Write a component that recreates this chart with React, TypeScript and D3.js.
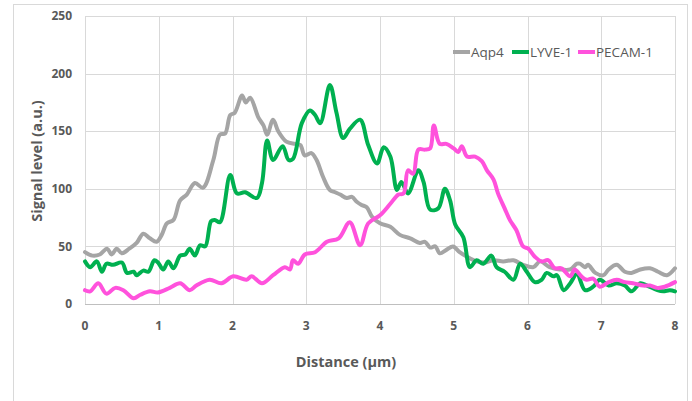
import React, { useEffect, useRef } from "react";
import * as d3 from "d3";

// measured profiles: [distance µm, signal a.u.]
const aqp4: [number, number][] = [
  [0, 45], [0.1, 42], [0.2, 43], [0.3, 48], [0.36, 43], [0.43, 48], [0.5, 44], [0.6, 48],
  [0.7, 53], [0.79, 61], [0.88, 57], [0.97, 54], [1.04, 60], [1.11, 70], [1.2, 73], [1.29, 90],
  [1.38, 95], [1.49, 105], [1.6, 101], [1.74, 125], [1.83, 147], [1.9, 148], [1.97, 164],
  [2.03, 166], [2.13, 181], [2.18, 175], [2.24, 179], [2.35, 162], [2.42, 155], [2.47, 147],
  [2.55, 160], [2.62, 150], [2.73, 141], [2.85, 139], [2.92, 138], [2.98, 129], [3.07, 131],
  [3.14, 125], [3.23, 110], [3.32, 99], [3.39, 97], [3.46, 95], [3.55, 92], [3.62, 93],
  [3.68, 89], [3.75, 86], [3.82, 84], [3.89, 76], [4.0, 70], [4.14, 67], [4.27, 60],
  [4.41, 57], [4.54, 53], [4.61, 54], [4.68, 49], [4.75, 50], [4.81, 44], [4.9, 47],
  [4.99, 50], [5.08, 45], [5.18, 41], [5.31, 37], [5.42, 36], [5.54, 38], [5.67, 37],
  [5.81, 38], [5.94, 34], [6.08, 32], [6.17, 37], [6.3, 32], [6.44, 30], [6.58, 30],
  [6.67, 35], [6.71, 35], [6.78, 32], [6.82, 34], [6.92, 27], [7.03, 25], [7.1, 30],
  [7.21, 34], [7.32, 28], [7.41, 27], [7.53, 30], [7.66, 31], [7.77, 28], [7.89, 25], [8.0, 31],
];

const lyve1: [number, number][] = [
  [0, 37], [0.07, 32], [0.16, 37], [0.23, 28], [0.29, 35], [0.38, 34], [0.5, 36], [0.57, 27],
  [0.66, 28], [0.7, 25], [0.79, 29], [0.86, 28], [0.94, 38], [0.99, 36], [1.06, 30], [1.13, 37],
  [1.2, 31], [1.29, 42], [1.36, 43], [1.42, 48], [1.49, 42], [1.56, 51], [1.63, 50], [1.71, 72],
  [1.76, 73], [1.83, 71], [1.97, 112], [2.06, 96], [2.17, 97], [2.33, 92], [2.4, 105],
  [2.47, 142], [2.55, 125], [2.68, 137], [2.76, 125], [2.82, 126], [2.94, 157], [3.05, 168],
  [3.12, 164], [3.19, 157], [3.32, 190], [3.41, 166], [3.5, 144], [3.59, 152], [3.73, 160],
  [3.84, 138], [3.96, 122], [4.05, 136], [4.14, 128], [4.23, 99], [4.29, 106], [4.38, 96],
  [4.52, 116], [4.59, 106], [4.68, 82], [4.79, 83], [4.88, 100], [4.95, 90], [5.02, 69],
  [5.13, 58], [5.22, 32], [5.31, 38], [5.4, 35], [5.51, 42], [5.58, 32], [5.69, 28],
  [5.81, 21], [5.9, 35], [5.99, 28], [6.1, 19], [6.19, 21], [6.26, 27], [6.35, 24], [6.4, 25],
  [6.49, 12], [6.58, 18], [6.67, 26], [6.78, 12], [6.89, 15], [6.98, 21], [7.1, 16],
  [7.21, 18], [7.32, 16], [7.41, 11], [7.53, 18], [7.62, 16], [7.76, 12], [7.84, 11],
  [7.93, 12], [8.0, 11],
];

const pecam1: [number, number][] = [
  [0, 12], [0.07, 11], [0.18, 18], [0.29, 9], [0.41, 14], [0.52, 12], [0.66, 5], [0.75, 8],
  [0.88, 11], [0.99, 10], [1.15, 14], [1.29, 18], [1.42, 12], [1.51, 16], [1.69, 21],
  [1.85, 18], [2.01, 24], [2.19, 21], [2.26, 24], [2.4, 18], [2.55, 25], [2.71, 32],
  [2.78, 30], [2.82, 38], [2.89, 35], [2.98, 43], [3.12, 45], [3.28, 54], [3.44, 57],
  [3.59, 71], [3.73, 51], [3.84, 70], [4.0, 77], [4.14, 87], [4.25, 95], [4.32, 96],
  [4.38, 116], [4.45, 113], [4.52, 134], [4.61, 134], [4.68, 135], [4.73, 155], [4.81, 139],
  [4.9, 139], [5.0, 135], [5.06, 132], [5.11, 137], [5.18, 128], [5.29, 128], [5.38, 124],
  [5.45, 116], [5.54, 108], [5.6, 96], [5.69, 83], [5.76, 73], [5.85, 64], [5.94, 50],
  [6.01, 48], [6.1, 41], [6.19, 37], [6.28, 38], [6.37, 31], [6.46, 31], [6.58, 24],
  [6.64, 30], [6.73, 24], [6.8, 21], [6.89, 22], [6.98, 15], [7.1, 19], [7.21, 21],
  [7.32, 19], [7.43, 18], [7.57, 16], [7.66, 16], [7.76, 14], [7.86, 15], [8.0, 19],
];

const seriesNames = ["Aqp4", "LYVE-1", "PECAM-1"];
const seriesColors = ["#a5a5a5", "#00b050", "#ff52dc"];
const xTicks = [0, 1, 2, 3, 4, 5, 6, 7, 8];
const yTicks = [0, 50, 100, 150, 200, 250];

const W = 692;
const H = 401;
const FONT = "'Open Sans', sans-serif";
const TEXT = "#595959";

export default function App() {
  const svgRef = useRef<SVGSVGElement>(null);

  useEffect(() => {
    const svg = d3.select(svgRef.current);
    svg.selectAll("*").remove();

    const x = d3.scaleLinear().domain([0, 8]).range([85, 675]);
    const y = d3.scaleLinear().domain([0, 250]).range([304, 16]);

    // chart area border
    svg.append("rect")
      .attr("x", 13.5).attr("y", 4.5)
      .attr("width", 674).attr("height", 410)
      .attr("fill", "white").attr("stroke", "#d9d9d9");

    // grid
    svg.append("g")
      .selectAll("line.h")
      .data(yTicks)
      .enter().append("line")
      .attr("x1", x(0)).attr("x2", x(8))
      .attr("y1", (d) => Math.round(y(d)) + 0.5).attr("y2", (d) => Math.round(y(d)) + 0.5)
      .attr("stroke", (d) => (d === 0 ? "#bfbfbf" : "#d9d9d9"));
    svg.append("g")
      .selectAll("line.v")
      .data(xTicks)
      .enter().append("line")
      .attr("y1", y(0)).attr("y2", y(250))
      .attr("x1", (d) => Math.round(x(d)) + 0.5).attr("x2", (d) => Math.round(x(d)) + 0.5)
      .attr("stroke", "#d9d9d9");

    // tick labels
    svg.append("g")
      .selectAll("text")
      .data(yTicks)
      .enter().append("text")
      .attr("x", 72).attr("y", (d) => y(d))
      .attr("dy", "0.35em")
      .attr("text-anchor", "end")
      .attr("font-family", FONT).attr("font-size", 12).attr("font-weight", 700)
      .attr("fill", TEXT)
      .text((d) => d);
    svg.append("g")
      .selectAll("text")
      .data(xTicks)
      .enter().append("text")
      .attr("x", (d) => x(d)).attr("y", 330)
      .attr("text-anchor", "middle")
      .attr("font-family", FONT).attr("font-size", 12).attr("font-weight", 700)
      .attr("fill", TEXT)
      .text((d) => d);

    // axis titles
    svg.append("text")
      .attr("x", 346).attr("y", 367)
      .attr("text-anchor", "middle")
      .attr("font-family", FONT).attr("font-size", 14.5).attr("font-weight", 700)
      .attr("fill", TEXT)
      .text("Distance (µm)");
    svg.append("text")
      .attr("transform", "translate(42,161) rotate(-90)")
      .attr("text-anchor", "middle")
      .attr("font-family", FONT).attr("font-size", 14.5).attr("font-weight", 700)
      .attr("fill", TEXT)
      .text("Signal level (a.u.)");

    // lines
    const line = d3.line<[number, number]>()
      .x((d) => x(d[0]))
      .y((d) => y(d[1]))
      .curve(d3.curveCatmullRom.alpha(0.5));

    [aqp4, lyve1, pecam1].forEach((data, i) => {
      svg.append("path")
        .datum(data)
        .attr("d", line)
        .attr("fill", "none")
        .attr("stroke", seriesColors[i])
        .attr("stroke-width", 4)
        .attr("stroke-linejoin", "round")
        .attr("stroke-linecap", "round");
    });

    // legend
    const legendX = [453, 512, 578];
    const lg = svg.append("g");
    seriesNames.forEach((name, i) => {
      lg.append("line")
        .attr("x1", legendX[i]).attr("x2", legendX[i] + 17)
        .attr("y1", 52).attr("y2", 52)
        .attr("stroke", seriesColors[i]).attr("stroke-width", 4);
      lg.append("text")
        .attr("x", legendX[i] + 18).attr("y", 52)
        .attr("dy", "0.35em")
        .attr("font-family", FONT).attr("font-size", 13.5)
        .attr("fill", TEXT)
        .text(name);
    });
  }, []);

  return (
    <svg
      ref={svgRef}
      width={W}
      height={H}
      style={{ position: "absolute", left: 0, top: 0, background: "white" }}
    />
  );
}
